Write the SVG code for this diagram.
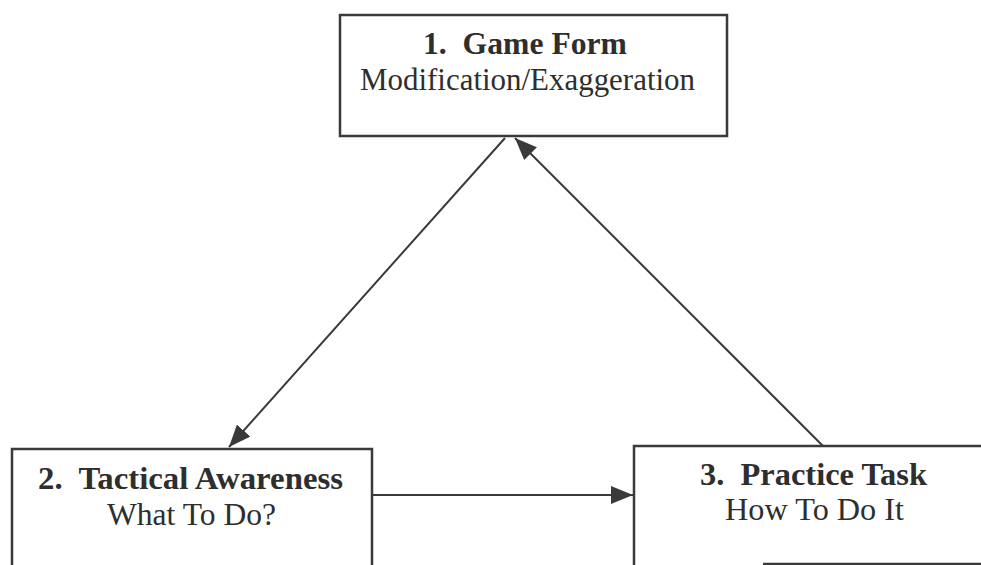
<svg xmlns="http://www.w3.org/2000/svg" width="981" height="565" viewBox="0 0 981 565">
<style>
.box{fill:none;stroke:#3a3a3a;stroke-width:2.5}
.con{stroke:#3a3a3a;stroke-width:2;fill:none}
.t{font-family:"Liberation Serif","Times New Roman",serif;fill:#2e2e2e}
.b{font-weight:bold;font-size:31px}
.r{font-size:31px}
</style>
<defs>
<marker id="ah2" viewBox="0 0 10 10" refX="10" refY="5" markerWidth="22" markerHeight="18" markerUnits="userSpaceOnUse" orient="auto" preserveAspectRatio="none">
<path d="M0,0 L10,5 L0,10 z" fill="#3a3a3a"/>
</marker>
</defs>
<rect width="981" height="565" fill="#ffffff"/>
<g id="connectors">
<line class="con" x1="505" y1="138" x2="229" y2="447" marker-end="url(#ah2)"/>
<line class="con" x1="823" y1="446" x2="515" y2="138" marker-end="url(#ah2)"/>
<line class="con" x1="372" y1="495" x2="633" y2="495" marker-end="url(#ah2)"/>
</g>
<g id="node1">
<path class="box" d="M340,15 H727 V136 H340 Z"/>
<text class="t b" x="423" y="54" textLength="204" lengthAdjust="spacingAndGlyphs" xml:space="preserve">1.  Game Form</text>
<text class="t r" x="360" y="90" textLength="335" lengthAdjust="spacingAndGlyphs">Modification/Exaggeration</text>
</g>
<g id="node2">
<path class="box" d="M12,565 V449 H372 V565"/>
<text class="t b" x="38" y="489" textLength="305" lengthAdjust="spacingAndGlyphs" xml:space="preserve">2.  Tactical Awareness</text>
<text class="t r" x="107" y="525" textLength="169" lengthAdjust="spacingAndGlyphs">What To Do?</text>
</g>
<g id="node3">
<path class="box" d="M634,565 V446 H981"/>
<line class="box" x1="763" y1="564" x2="981" y2="564"/>
<text class="t b" x="700" y="485" textLength="227" lengthAdjust="spacingAndGlyphs" xml:space="preserve">3.  Practice Task</text>
<text class="t r" x="725" y="520" textLength="179" lengthAdjust="spacingAndGlyphs">How To Do It</text>
</g>
</svg>
